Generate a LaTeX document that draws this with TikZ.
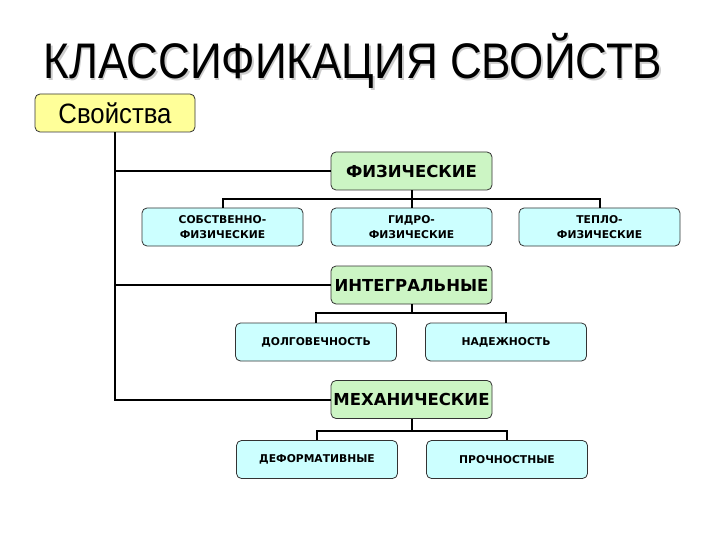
\documentclass[tikz,border=0pt]{standalone}
\usepackage{fontspec}
\setmainfont{Liberation Sans}
\newfontfamily\narrowfont[FakeStretch=0.88]{Liberation Sans}
\newfontfamily\rootfont[FakeStretch=0.92]{Liberation Sans}
\newfontfamily\labelfont{DejaVu Sans}
\definecolor{yel}{HTML}{FFFF99}
\definecolor{grn}{HTML}{CCF5C4}
\definecolor{cyn}{HTML}{CCFFFF}
\definecolor{edge}{HTML}{333333}
\tikzset{
  boxbase/.style={draw=edge, line width=0.8pt, rounded corners=5pt, minimum width=161pt, minimum height=38pt, inner sep=0pt, align=center, text=black},
  rootbox/.style={boxbase, fill=yel, minimum width=160pt, font=\rootfont\fontsize{28}{30}\selectfont},
  mainbox/.style={boxbase, fill=grn, font=\labelfont\bfseries\fontsize{16.5}{18}\selectfont},
  subbox/.style={boxbase, fill=cyn, font=\labelfont\bfseries\fontsize{10.75}{15}\selectfont},
  conn/.style={line width=2pt, black},
}
\begin{document}
\begin{tikzpicture}[x=1pt,y=-1pt]
\useasboundingbox (0,0) rectangle (720,540);
\fill[white] (0,0) rectangle (720,540);
% title
\node[text=gray!40, font=\narrowfont\fontsize{50}{56}\selectfont, anchor=base] at (354.5,80.5) {КЛАССИФИКАЦИЯ СВОЙСТВ};
\node (title) [text=black, font=\narrowfont\fontsize{50}{56}\selectfont, anchor=base] at (353,79) {КЛАССИФИКАЦИЯ СВОЙСТВ};
% nodes
\node[rootbox] (root) at (115,113) {Свойства};
\node[mainbox] (fiz) at (411.5,171) {ФИЗИЧЕСКИЕ};
\node[subbox] (sob) at (222.5,227) {СОБСТВЕННО-\\ФИЗИЧЕСКИЕ};
\node[subbox] (gid) at (411.5,227) {ГИДРО-\\ФИЗИЧЕСКИЕ};
\node[subbox] (tep) at (599.5,227) {ТЕПЛО-\\ФИЗИЧЕСКИЕ};
\node[mainbox] (int) at (411.5,285) {ИНТЕГРАЛЬНЫЕ};
\node[subbox] (dol) at (316,342) {ДОЛГОВЕЧНОСТЬ};
\node[subbox] (nad) at (506,342) {НАДЕЖНОСТЬ};
\node[mainbox] (mex) at (411.5,399.5) {МЕХАНИЧЕСКИЕ};
\node[subbox] (def) at (317,459.5) {ДЕФОРМАТИВНЫЕ};
\node[subbox] (pro) at (507,459.5) {ПРОЧНОСТНЫЕ};
% bar coordinates
\coordinate (b1) at (411.5,199);
\coordinate (b2) at (411.5,313);
\coordinate (b3) at (411.5,431);
% trunk
\draw[conn] (root.south) -- (root.south |- mex.west) -- (mex.west);
\draw[conn] (root.south |- fiz.west) -- (fiz.west);
\draw[conn] (root.south |- int.west) -- (int.west);
% physical
\draw[conn] (fiz.south) -- (gid.north);
\draw[conn] (sob.north) -- (sob.north |- b1) -- (tep.north |- b1) -- (tep.north);
% integral
\draw[conn] (int.south) -- (b2);
\draw[conn] (dol.north) -- (dol.north |- b2) -- (nad.north |- b2) -- (nad.north);
% mechanical
\draw[conn] (mex.south) -- (b3);
\draw[conn] (def.north) -- (def.north |- b3) -- (pro.north |- b3) -- (pro.north);
\end{tikzpicture}
\end{document}
